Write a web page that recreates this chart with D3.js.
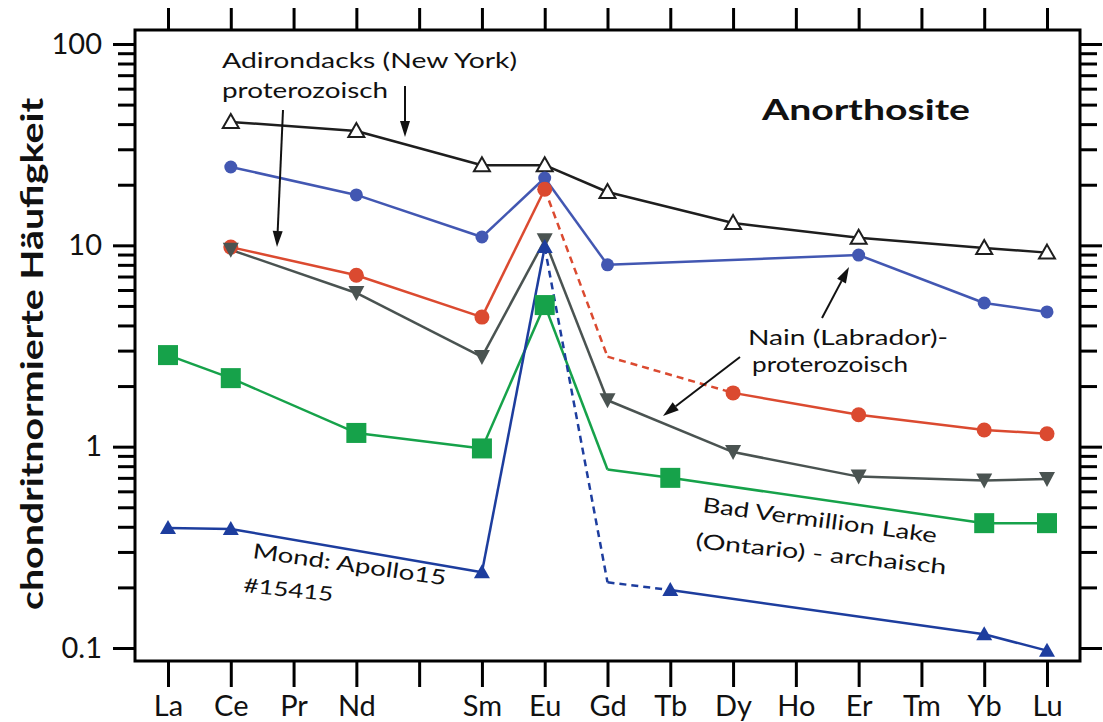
<!DOCTYPE html>
<html>
<head>
<meta charset="utf-8">
<script src="https://cdn.jsdelivr.net/npm/d3@7"></script>
<style>
  html, body { margin: 0; padding: 0; background: #fff; }
  svg { display: block; }
  text { font-family: Lato, "Open Sans", sans-serif; fill: #111; }
</style>
</head>
<body>
<svg id="chart" width="1103" height="722"></svg>
<script>
// ---- data ----
const elements = ["La","Ce","Pr","Nd","","Sm","Eu","Gd","Tb","Dy","Ho","Er","Tm","Yb","Lu"];
const yMajorTicks = [0.1, 1, 10, 100];
const yMajorLabels = ["0.1", "1", "10", "100"];

const adirondacks   = [null, 41,   null, 37,   null, 25,    25,   18.4, null,  12.9, null, 10.9, null, 9.7,   9.2];
const nainBlue      = [null, 24.5, null, 17.8, null, 11.0,  21.6, 8.0,  null,  null, null, 8.95, null, 5.17,  4.67];
const nainRed       = [null, 9.8,  null, 7.1,  null, 4.4,   19.0, 2.8,  null,  1.85, null, 1.44, null, 1.21,  1.16];
const nainGray      = [null, 9.5,  null, 5.8,  null, 2.79,  10.6, 1.7,  null,  0.94, null, 0.71, null, 0.68,  0.69];
const badVermillion = [2.85, 2.19, null, 1.17, null, 0.98,  5.05, 0.77, 0.70,  null, null, null, null, 0.417, 0.417];
const moonApollo    = [0.394,0.39, null, null, null, 0.238, 9.8,  0.212,0.194, null, null, null, null, 0.117, 0.097];

// ---- styles ----
const series = [
  { values: adirondacks,   color: "#1e1e1e", marker: "triOpen", noMarker: [], dashed: [] },
  { values: nainBlue,      color: "#4257b2", marker: "circle", r: 6.5, noMarker: [], dashed: [] },
  { values: nainRed,       color: "#db4a30", marker: "circle", r: 7.5, noMarker: [7], dashed: [[6, 9]] },
  { values: nainGray,      color: "#4a5351", marker: "triDown", noMarker: [], dashed: [] },
  { values: badVermillion, color: "#16a24a", marker: "square", noMarker: [7], dashed: [] },
  { values: moonApollo,    color: "#1d3d9e", marker: "triUp", noMarker: [7], dashed: [[6, 8]] }
];

const svg = d3.select("#chart");
const L = 135, R = 1080, T = 30, B = 661;

const x = d3.scaleLinear().domain([0, 14]).range([168, 1047]);
const y = d3.scaleLog().domain([0.1, 100]).range([648, 44]);

const minorTicks = [];
[0.1, 1, 10].forEach(d => { for (let k = 2; k <= 9; k++) minorTicks.push(+(d * k).toPrecision(3)); });

function styleAxis(g) {
  g.select(".domain").remove();
  g.selectAll(".tick line").attr("stroke", "#000").attr("stroke-width", 3);
}

// left
svg.append("g").attr("transform", `translate(${L},0)`)
  .call(d3.axisLeft(y).tickValues(minorTicks).tickSize(17).tickFormat(""))
  .call(styleAxis);
svg.append("g").attr("transform", `translate(${L},0)`)
  .call(d3.axisLeft(y).tickValues(yMajorTicks).tickSize(22).tickPadding(11)
    .tickFormat((d, i) => yMajorLabels[i]))
  .call(styleAxis)
  .call(g => g.selectAll("text").attr("font-size", 29).attr("font-family", "Lato, sans-serif").attr("fill", "#111"));
// right
svg.append("g").attr("transform", `translate(${R},0)`)
  .call(d3.axisRight(y).tickValues(minorTicks).tickSize(17).tickFormat(""))
  .call(styleAxis);
svg.append("g").attr("transform", `translate(${R},0)`)
  .call(d3.axisRight(y).tickValues(yMajorTicks).tickSize(22).tickFormat(""))
  .call(styleAxis);
// top
svg.append("g").attr("transform", `translate(0,${T})`)
  .call(d3.axisTop(x).tickValues(d3.range(15)).tickSize(22).tickFormat(""))
  .call(styleAxis);
// bottom
svg.append("g").attr("transform", `translate(0,${B})`)
  .call(d3.axisBottom(x).tickValues(d3.range(15)).tickSize(26).tickPadding(8)
    .tickFormat(i => elements[i]))
  .call(styleAxis)
  .call(g => g.selectAll("text").attr("font-size", 29).attr("font-family", "Lato, sans-serif").attr("fill", "#111"));

// frame
svg.append("rect").attr("x", L).attr("y", T).attr("width", R - L).attr("height", B - T)
  .attr("fill", "none").attr("stroke", "#000").attr("stroke-width", 3);

// y title
svg.append("text")
  .attr("transform", "translate(43,354) rotate(-90)")
  .attr("text-anchor", "middle")
  .attr("font-size", 31).attr("font-weight", 700)
  .attr("textLength", 512).attr("lengthAdjust", "spacingAndGlyphs")
  .attr("fill", "#2a2a2a")
  .text("chondritnormierte Häufigkeit");

// lines
const plot = svg.append("g");
series.forEach(s => {
  const pts = s.values.map((v, i) => ({ i, v })).filter(p => p.v != null);
  for (let k = 0; k < pts.length - 1; k++) {
    const a = pts[k], b = pts[k + 1];
    const dashed = s.dashed.some(([f, t]) => a.i >= f && b.i <= t);
    plot.append("line")
      .attr("x1", x(a.i)).attr("y1", y(a.v)).attr("x2", x(b.i)).attr("y2", y(b.v))
      .attr("stroke", s.color).attr("stroke-width", 2.5)
      .attr("stroke-dasharray", dashed ? "7,5" : null);
  }
});

// markers
series.forEach(s => {
  const pts = s.values.map((v, i) => ({ i, v })).filter(p => p.v != null && !s.noMarker.includes(p.i));
  pts.forEach(p => {
    const cx = x(p.i), cy = y(p.v);
    if (s.marker === "circle") {
      plot.append("circle").attr("cx", cx).attr("cy", cy).attr("r", s.r).attr("fill", s.color);
    } else if (s.marker === "square") {
      plot.append("rect").attr("x", cx - 10).attr("y", cy - 10).attr("width", 20).attr("height", 20).attr("fill", s.color);
    } else if (s.marker === "triOpen") {
      plot.append("path").attr("d", `M${cx},${cy - 8} L${cx + 8},${cy + 6} L${cx - 8},${cy + 6} Z`)
        .attr("fill", "#fff").attr("stroke", s.color).attr("stroke-width", 2);
    } else if (s.marker === "triDown") {
      plot.append("path").attr("d", `M${cx - 8},${cy - 7} L${cx + 8},${cy - 7} L${cx},${cy + 8} Z`).attr("fill", s.color);
    } else if (s.marker === "triUp") {
      plot.append("path").attr("d", `M${cx},${cy - 8} L${cx + 8},${cy + 6} L${cx - 8},${cy + 6} Z`).attr("fill", s.color);
    }
  });
});

// arrows
function arrow(x1, y1, x2, y2) {
  const ang = Math.atan2(y2 - y1, x2 - x1);
  const len = 16, w = 5;
  const bx = x2 - len * Math.cos(ang), by = y2 - len * Math.sin(ang);
  svg.append("line").attr("x1", x1).attr("y1", y1).attr("x2", bx).attr("y2", by)
    .attr("stroke", "#111").attr("stroke-width", 2);
  const px = -Math.sin(ang) * w, py = Math.cos(ang) * w;
  svg.append("path").attr("d", `M${x2},${y2} L${bx + px},${by + py} L${bx - px},${by - py} Z`).attr("fill", "#111");
}
arrow(283, 110, 277, 247);
arrow(405, 86, 405, 137);
arrow(822, 318, 849, 267);
arrow(740, 357, 663, 416);

// annotations
function label(txt, tx, ty, len, size, rot, weight, adjust) {
  svg.append("text")
    .attr("transform", `translate(${tx},${ty}) rotate(${rot || 0})`)
    .attr("font-family", "'Open Sans', sans-serif")
    .attr("font-size", size).attr("font-weight", weight || 400)
    .attr("textLength", len).attr("lengthAdjust", adjust || "spacingAndGlyphs")
    .attr("fill", "#111")
    .text(txt);
}
label("Adirondacks (New York)", 222, 68, 295, 22);
label("proterozoisch", 222, 98, 166, 22);
label("Anorthosite", 762, 120, 208, 29, 0, 700);
label("Nain (Labrador)-", 748, 345, 200, 22);
label("proterozoisch", 752, 372, 156, 22);
label("Bad Vermillion Lake", 702, 512, 236, 21, 7.5);
label("(Ontario) - archaisch", 695, 548, 252, 21, 6);
label("Mond: Apollo15", 252, 558, 195, 21, 8);
label("#15415", 243, 592, 90, 20, 6);
</script>
</body>
</html>
